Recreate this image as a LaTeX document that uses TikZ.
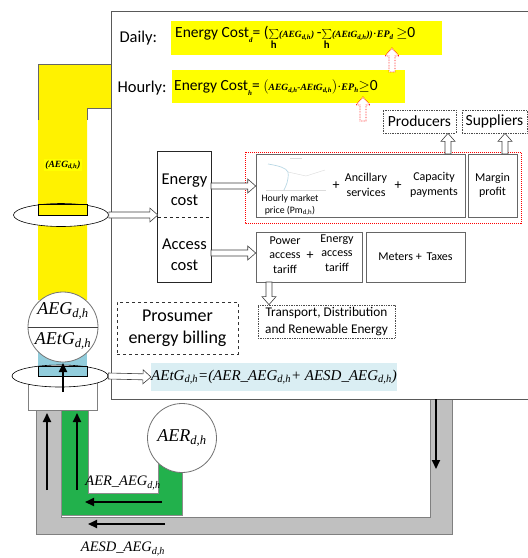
\documentclass[tikz,border=0pt]{standalone}
\usepackage{fontspec}
\setmainfont{Carlito}
\newfontfamily\tms{Liberation Serif}
\usetikzlibrary{arrows.meta,calc,shapes.geometric}
\newcommand\tbi{\tms\bfseries\itshape}
\newcommand\tit{\tms\itshape}
\newcommand\smsum{\ensuremath{\mathop{\textstyle\sum}\limits_{\mathbf{h}}}}
\newcommand\blockarrow[3][]{%
  \draw[blockarr,#1] let \p1=#2, \p2=#3, \n1={atan2(\y2-\y1,\x2-\x1)}, \n2={veclen(\x2-\x1,\y2-\y1)} in
   {[shift={(\p1)}, rotate=\n1] (0pt,-3pt) -- ({\n2-8pt},-3pt) -- ({\n2-8pt},-7pt) -- (\n2,0pt) -- ({\n2-8pt},7pt) -- ({\n2-8pt},3pt) -- (0pt,3pt) -- cycle};}
\definecolor{colyel}{RGB}{255,242,0}
\definecolor{fyel}{RGB}{255,255,0}
\definecolor{lblue}{RGB}{218,238,243}
\definecolor{pipeblue}{RGB}{146,205,220}
\definecolor{grn}{RGB}{34,177,76}
\definecolor{gry}{RGB}{192,192,192}
\begin{document}
\begin{tikzpicture}[x=1pt,y=-1pt,
  blockarr/.style={draw=black!75, fill=white, line width=0.6pt},
  redarr/.style={draw=red, fill=white, densely dotted, line width=0.9pt},
  blk/.style={line width=2pt, -{Triangle[length=9pt,width=8pt]}},
  graybox/.style={draw=black!60, line width=0.6pt, inner sep=0pt},
  dotbox/.style={draw=black!70, densely dotted, line width=0.7pt, inner sep=0pt},
  fbig/.style={font=\fontsize{16.5}{19}\selectfont},
  fmid/.style={font=\fontsize{15.5}{18}\selectfont},
  fsm/.style={font=\fontsize{12}{14.5}\selectfont, align=center},
  ftn/.style={font=\fontsize{9.8}{12}\selectfont, align=center}
]
\useasboundingbox (0,0) rectangle (528,558);

% ---------- yellow column (AEG)
\fill[colyel] (38,64) -- (111,64) -- (111,108) -- (87,108) -- (87,300) -- (38,300) -- cycle;
\draw[black!60, line width=0.5pt] (38,120) -- (38,64) -- (111,64);
\draw[black!60, line width=0.5pt] (111,108) -- (87,108) -- (87,120);
\node[fill=fyel, inner sep=1pt, font=\fontsize{9.5}{11}\selectfont\tbi] (aeglab) at (63,165) {(AEG\textsubscript{d,h})};
\fill[pipeblue] (38,330) rectangle (87,376);

% ---------- gray and green pipes
\filldraw[fill=gry, draw=black!50, line width=0.8pt] (36,405) -- (36,534) -- (452,534) -- (452,399) -- (430,399) -- (430,517) -- (61,517) -- (61,405) -- cycle;
\filldraw[fill=grn, draw=black!45, line width=0.6pt] (61,405) -- (61,515) -- (182,515) -- (182,460) -- (158,460) -- (158,493) -- (88,493) -- (88,405) -- cycle;

% ---------- main white panel
\filldraw[fill=white, draw=black!65, line width=0.8pt] (111,11) rectangle (532,399);

% ---------- ellipse 1 around yellow column
\node[ellipse, draw, fill=white, line width=0.6pt, minimum width=95pt, minimum height=23pt, inner sep=0pt] (ell1) at (61,215) {};
\filldraw[fill=colyel, draw=black, line width=0.6pt] (38,204) rectangle (87,215);

% ---------- circle AEG / AEtG
\node[circle, draw=black!55, fill=white, line width=0.8pt, minimum size=70pt, inner sep=0pt] (cA) at (63,327) {};
\draw[black!75, line width=0.8pt] (cA.west) -- (cA.east);
\node[font=\fontsize{18}{20}\selectfont\tit] (taeg) at (63,311) {AEG\textsubscript{d,h}};
\node[font=\fontsize{18}{20}\selectfont\tit] (taetg) at (63,341) {AEtG\textsubscript{d,h}};

% ---------- ellipse 2 and white socket
\filldraw[fill=white, draw=black!50, line width=0.7pt] (28,376) rectangle (97,410);
\node[ellipse, draw, fill=white, line width=0.6pt, minimum width=96pt, minimum height=22pt, inner sep=0pt] (ell2) at (60,376) {};
\filldraw[fill=pipeblue, draw=black, line width=0.6pt] (38,366) rectangle (87,376);
\coordinate (upA) at (63,392);
\coordinate (upB) at (63,363);
\draw[blk] (upA) -- (upB);

% ---------- AER circle
\node[circle, draw=black!55, fill=white, line width=0.8pt, minimum size=69pt, inner sep=0pt, font=\fontsize{18}{20}\selectfont\tit] (cR) at (182,438) {AER\textsubscript{d,h}};

% ---------- flow arrows in pipes
\coordinate (g1a) at (47,490); \coordinate (g1b) at (47,413);
\coordinate (g2a) at (77,490); \coordinate (g2b) at (77,413);
\coordinate (h1a) at (162,502); \coordinate (h1b) at (85,502);
\coordinate (h2a) at (165,524); \coordinate (h2b) at (88,524);
\coordinate (r1a) at (436,399); \coordinate (r1b) at (436,469);
\draw[blk] (g1a) -- (g1b);
\draw[blk] (g2a) -- (g2b);
\draw[blk] (h1a) -- (h1b);
\draw[blk] (h2a) -- (h2b);
\draw[blk] (r1a) -- (r1b);
\node[font=\fontsize{14.5}{16}\selectfont\tit] (laer) at (123,483) {AER\_AEG\textsubscript{d,h}};
\node[font=\fontsize{14.5}{16}\selectfont\tit] (laesd) at (123,549) {AESD\_AEG\textsubscript{d,h}};

% ---------- top formulas
\node[fbig, anchor=west] (daily) at (116,38) {Daily:};
\node[fbig, anchor=west] (hourly) at (114,88) {Hourly:};
\node[fill=fyel, minimum width=271pt, minimum height=34pt, inner sep=0pt] (dbox) at (306.5,38) {};
\node[fill=fyel, minimum width=233pt, minimum height=33pt, inner sep=0pt] (hbox) at (288.5,86.5) {};
\node[anchor=west, inner sep=0pt, fmid] (dform) at (175,38) {Energy Cost\raisebox{-5pt}{\fontsize{7}{8}\selectfont\tbi d}= (\smsum{\fontsize{9.5}{11}\selectfont\tbi(AEG\textsubscript{d,h})}\,-\smsum{\fontsize{9.5}{11}\selectfont\tbi(AEtG\textsubscript{d,h}))}$\cdot${\fontsize{10}{11}\selectfont\tbi EP\textsubscript{d}}\,$\geq$0};
\node[anchor=west, inner sep=0pt, fmid] (hform) at (174,88) {Energy Cost\raisebox{-5pt}{\fontsize{7}{8}\selectfont\tbi h}= $\bigl(${\fontsize{9.5}{11}\selectfont\tbi AEG\textsubscript{d,h}-AEtG\textsubscript{d,h}}$\bigr)\cdot${\fontsize{10}{11}\selectfont\tbi EP\textsubscript{h}}$\geq$0};
\coordinate (epd) at (392,48);
\coordinate (epdb) at (392,72);
\coordinate (eph) at (363,97);
\coordinate (ephb) at (363,121);
\blockarrow[redarr]{(epdb)}{(epd)}
\blockarrow[redarr]{(ephb)}{(eph)}

% ---------- producers / suppliers
\node[dotbox, fmid, minimum width=73pt, minimum height=23pt] (prod) at (419.5,121.5) {Producers};
\node[dotbox, fmid, minimum width=65pt, minimum height=23pt] (supp) at (494.5,121.5) {Suppliers};

% ---------- energy market components
\draw[red, densely dotted, line width=1pt] (245,152) rectangle (521,223);
\node[graybox, minimum width=209pt, minimum height=63pt] (mkt) at (360.5,185.5) {};
\node[graybox, fsm, minimum width=49pt, minimum height=63pt] (marg) at (492.5,185.5) {Margin\\profit};
\begin{scope}[opacity=0.35]
\draw[black!40, line width=0.4pt] (266,190) -- (326,190);
\draw[cyan!70!black, line width=0.7pt] (268,164) .. controls (280,166) and (286,168) .. (288,172) .. controls (289,180) and (286,186) .. (284,190);
\draw[black!40, line width=0.4pt] (288,172) -- (306,176) -- (325,170);
\draw[black!40, line width=0.4pt] (290,158) -- (302,158);
\end{scope}
\node[ftn] (hmp) at (290,205) {Hourly market\\price (Pm\textsubscript{d,h})};
\node[fsm, font=\fontsize{14}{16}\selectfont] (pl1) at (336,186) {+};
\node[fsm] (anc) at (366,185) {Ancillary\\services};
\node[fsm, font=\fontsize{14}{16}\selectfont] (pl2) at (398,186) {+};
\node[fsm] (cap) at (434,185) {Capacity\\payments};
\coordinate (pa) at (448,154);
\coordinate (sa) at (505,154);
\blockarrow{(pa)}{(pa |- prod.south)}
\blockarrow{(sa)}{(sa |- supp.south)}

% ---------- energy / access cost
\node[minimum width=53pt, minimum height=65pt, inner sep=0pt] (ecost) at (184.5,184.5) {};
\node[minimum width=53pt, minimum height=65pt, inner sep=0pt] (acost) at (184.5,249.5) {};
\node[fbig, align=center, font=\fontsize{16.5}{21}\selectfont] (etxt) at (184.5,190) {Energy\\cost};
\node[fbig, align=center, font=\fontsize{16.5}{21}\selectfont] (atxt) at (184.5,255) {Access\\cost};
\draw[black!85, line width=0.7pt] (ecost.north west) rectangle (acost.south east);
\draw[black!85, dashed, line width=0.5pt] (ecost.south west) -- (ecost.south east);
\blockarrow{(ell1.east)}{(ell1.east -| ecost.west)}
\coordinate (ecA) at (211,186);
\blockarrow{(ecA)}{(ecA -| mkt.west)}
\coordinate (acA) at (211,253);
\blockarrow{(acA)}{(acA -| mkt.west)}

% ---------- access components
\node[graybox, minimum width=106pt, minimum height=50pt] (pow) at (309,257) {};
\node[fsm] (pat) at (285,255) {Power\\access\\tariff};
\node[fsm, font=\fontsize{14}{16}\selectfont] (pl3) at (310,256) {+};
\node[fsm] (eat) at (337,253) {Energy\\access\\tariff};
\node[graybox, fsm, minimum width=99pt, minimum height=50pt] (met) at (415.5,257) {Meters + \,Taxes};
\node[dotbox, font=\fontsize{13.3}{16.5}\selectfont, align=center, minimum width=137pt, minimum height=33pt] (trans) at (326.5,321.5) {Transport, Distribution\\and Renewable Energy};
\coordinate (tA) at (269,282);
\blockarrow{(tA)}{(tA |- trans.north)}

% ---------- prosumer billing
\node[draw=black!80, dashed, line width=0.7pt, font=\fontsize{18}{22}\selectfont, align=center, minimum width=121pt, minimum height=52pt, inner sep=0pt] (bill) at (177.5,328) {Prosumer\\energy billing};

% ---------- AEtG formula
\node[fill=lblue, minimum width=240pt, minimum height=28pt, inner sep=0pt, font=\fontsize{15}{17}\selectfont\tit] (aetgf) at (274,377) {AEtG\textsubscript{d,h}=(AER\_AEG\textsubscript{d,h}+ AESD\_AEG\textsubscript{d,h})};
\blockarrow{(ell2.east)}{(aetgf.west)}
\end{tikzpicture}
\end{document}
